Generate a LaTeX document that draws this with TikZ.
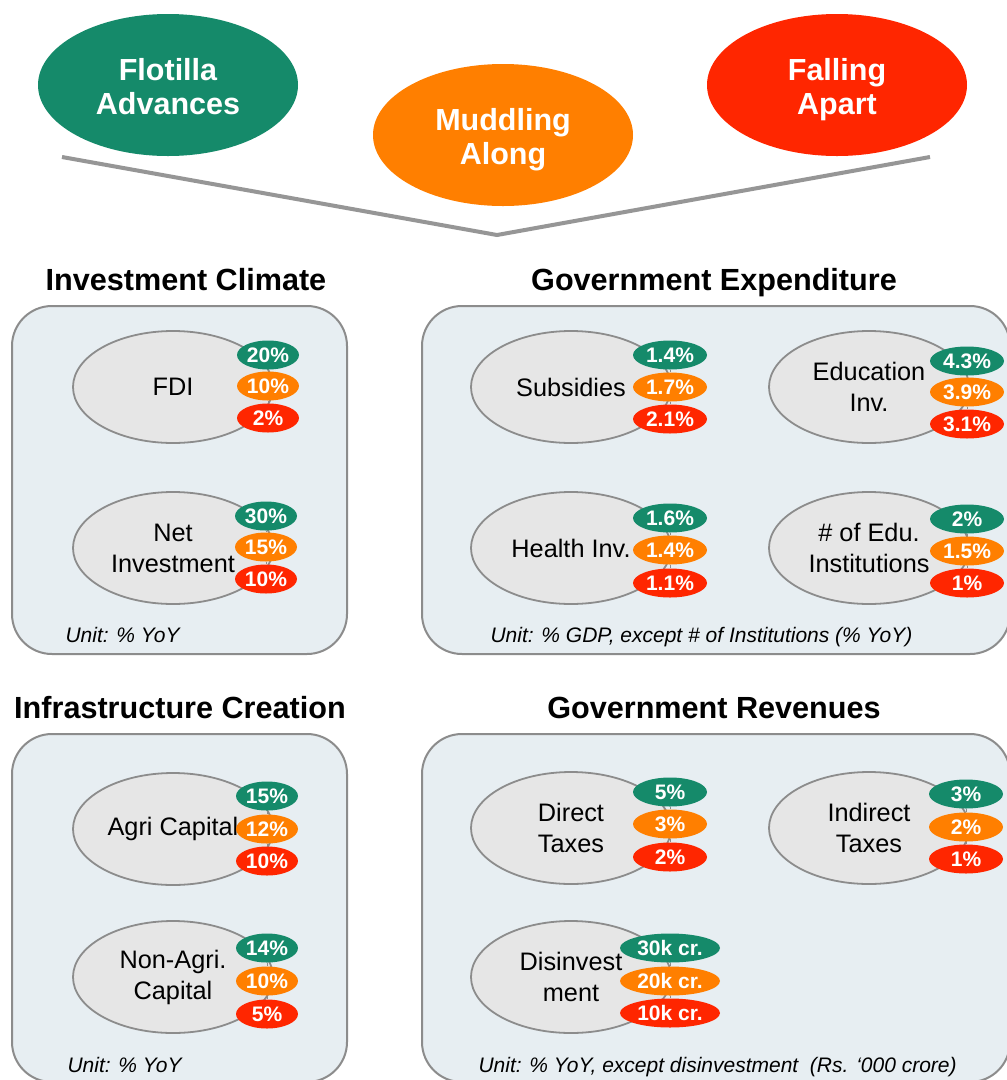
\documentclass[tikz,border=0pt]{standalone}
\usepackage{fontspec}
\setmainfont{Liberation Sans}
\usetikzlibrary{shapes.geometric}
\definecolor{cgreen}{RGB}{21,138,106}
\definecolor{corange}{RGB}{255,127,0}
\definecolor{cred}{RGB}{255,38,0}
\definecolor{panelfill}{RGB}{231,238,242}
\definecolor{itemfill}{RGB}{230,230,230}
\definecolor{linegray}{RGB}{140,140,140}
\definecolor{vgray}{RGB}{150,150,150}
\newcommand\badgeset[9]{%
  \node[badge,fill=cgreen,minimum width=#9] (#1g) at (#2,#3) {#6};
  \node[badge,fill=corange,minimum width=#9] (#1o) at (#2,#4) {#7};
  \node[badge,fill=cred,minimum width=#9] (#1r) at (#2,#5) {#8};
  \draw[conn] (#1g) -- (#1o) (#1o) -- (#1r);
}
\begin{document}
\begin{tikzpicture}[x=1pt,y=-1pt,
  topell/.style={ellipse, draw=none, minimum width=260pt, minimum height=142pt, inner sep=0pt},
  toptext/.style={text=white, align=center, text depth=0pt, inner sep=0pt,
    font=\bfseries\fontsize{30.5}{34}\selectfont},
  vline/.style={draw=vgray, line width=4pt},
  title/.style={anchor=base, font=\bfseries\fontsize{30.6}{34}\selectfont},
  panel/.style={rectangle, draw=linegray, line width=2pt, fill=panelfill, rounded corners=40pt, inner sep=0pt},
  item/.style={ellipse, draw=linegray, line width=1.8pt, fill=itemfill, minimum width=200pt, minimum height=112pt,
    inner sep=0pt, align=center, font=\fontsize{25.3}{31}\selectfont},
  badge/.style={ellipse, draw=none, minimum height=29pt, inner sep=0pt, text=white,
    font=\bfseries\fontsize{21}{24}\selectfont},
  conn/.style={draw=linegray, line width=1pt},
  unit/.style={anchor=base west, font=\itshape\fontsize{21}{24}\selectfont}
]
\useasboundingbox (0,0) rectangle (1007,1080);
\fill[white] (0,0) rectangle (1007,1080);

% scenarios
\node[topell, fill=cgreen] (flot) at (168,85) {};
\node[topell, fill=corange] (mudd) at (503,135) {};
\node[topell, fill=cred] (fall) at (837,85) {};
\node[toptext] (flott) at (168,86.5) {Flotilla\\Advances};
\node[toptext] (muddt) at (503,136) {Muddling\\Along};
\node[toptext] (fallt) at (837,86.5) {Falling\\Apart};
\coordinate (vl) at (62,157);
\coordinate (vm) at (497,235);
\coordinate (vr) at (930,157);
\draw[vline] (vl) -- (vm) -- (vr);

% titles
\node[title] (t1) at (186,290) {Investment Climate};
\node[title] (t2) at (714,290) {Government Expenditure};
\node[title] (t3) at (180,718) {Infrastructure Creation};
\node[title] (t4) at (714,718) {Government Revenues};

% panels
\node[panel, minimum width=335pt, minimum height=348pt] (p1) at (179.5,480) {};
\node[panel, minimum width=588pt, minimum height=348pt] (p2) at (716,480) {};
\node[panel, minimum width=335pt, minimum height=348pt] (p3) at (179.5,908) {};
\node[panel, minimum width=588pt, minimum height=348pt] (p4) at (716,908) {};

% Investment climate
\node[item] (fdi) at (173,387) {FDI};
\badgeset{fdib}{268}{355}{386}{418}{20\%}{10\%}{2\%}{62pt}
\node[item] (neti) at (173,548) {Net\\Investment};
\badgeset{netb}{266}{516}{547}{579}{30\%}{15\%}{10\%}{62pt}
\node[unit] (u1) at (62,642) {Unit: \% YoY};

% Government expenditure
\node[item] (subs) at (571,387) {Subsidies};
\badgeset{subb}{670}{355}{387}{419}{1.4\%}{1.7\%}{2.1\%}{74pt}
\node[item] (educ) at (869,387) {Education\\Inv.};
\badgeset{edub}{967}{361}{392}{424}{4.3\%}{3.9\%}{3.1\%}{74pt}
\node[item] (heal) at (571,548) {Health Inv.};
\badgeset{heab}{670}{518}{550}{583}{1.6\%}{1.4\%}{1.1\%}{74pt}
\node[item] (inst) at (869,548) {\# of Edu.\\Institutions};
\badgeset{insb}{967}{519}{551}{583}{2\%}{1.5\%}{1\%}{74pt}
\node[unit] (u2) at (487,642) {Unit: \% GDP, except \# of Institutions (\% YoY)};

% Infrastructure creation
\node[item] (agri) at (173,829) {Agri Capital};
\badgeset{agrb}{267}{796}{829}{861}{15\%}{12\%}{10\%}{62pt}
\node[item] (nagr) at (173,977) {Non-Agri.\\Capital};
\badgeset{nagb}{267}{948}{981}{1014}{14\%}{10\%}{5\%}{62pt}
\node[unit] (u3) at (64,1072) {Unit: \% YoY};

% Government revenues
\node[item] (dirt) at (571,828) {Direct\\Taxes};
\badgeset{dirb}{670}{792}{824}{857}{5\%}{3\%}{2\%}{74pt}
\node[item] (indt) at (869,828) {Indirect\\Taxes};
\badgeset{indb}{966}{794}{827}{859}{3\%}{2\%}{1\%}{74pt}
\node[item] (disi) at (571,977) {Disinvest\\ment};
\badgeset{disb}{670}{948}{981}{1013}{30k cr.}{20k cr.}{10k cr.}{100pt}
\node[unit] (u4) at (475,1072) {Unit: \% YoY, except disinvestment\ \ (Rs. ‘000 crore)};
\end{tikzpicture}
\end{document}
